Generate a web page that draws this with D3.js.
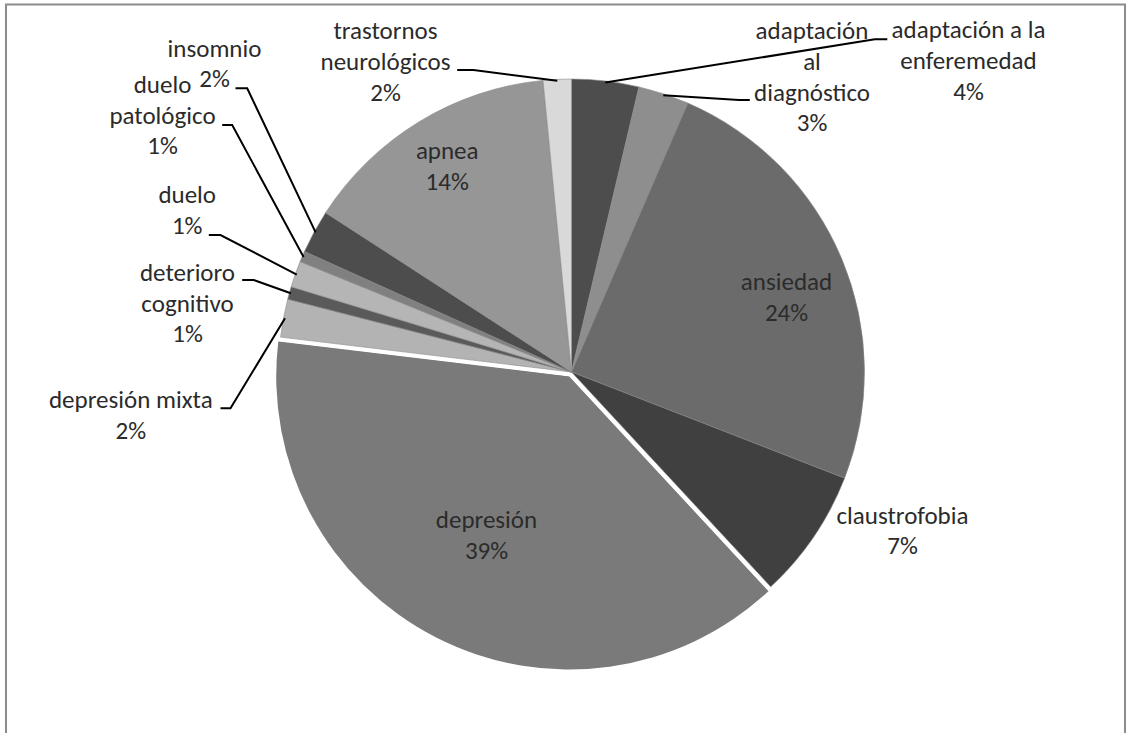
<!DOCTYPE html>
<html>
<head>
<meta charset="utf-8">
<script src="https://cdn.jsdelivr.net/npm/d3@7"></script>
<style>
  html, body { margin: 0; padding: 0; background: #ffffff; }
  svg { display: block; }
  .lbl text { font-family: Carlito, Calibri, Lato, sans-serif; font-size: 25px; fill: #2b2b2b; }
</style>
</head>
<body>
<svg id="chart" width="1132" height="733"></svg>
<script>
// Diagnoses, clockwise from 12 o'clock
const categories = [
  "adaptación a la enferemedad", "adaptación al diagnóstico", "ansiedad", "claustrofobia",
  "depresión", "depresión mixta", "deterioro cognitivo", "duelo", "duelo patológico",
  "insomnio", "apnea", "trastornos neurológicos"
];
// Share of cases (%)
const shares = [3.7, 2.8, 24.4, 7.2, 38.8, 2.1, 0.7, 1.45, 0.6, 2.4, 14.3, 1.55];
// Category text broken into display lines
const labelLines = [
  ["adaptación a la", "enferemedad"], ["adaptación", "al", "diagnóstico"], ["ansiedad"], ["claustrofobia"],
  ["depresión"], ["depresión mixta"], ["deterioro", "cognitivo"], ["duelo"], ["duelo", "patológico"],
  ["insomnio"], ["apnea"], ["trastornos", "neurológicos"]
];
const sliceGreys = ["#4d4d4d", "#8e8e8e", "#6b6b6b", "#404040", "#7a7a7a", "#b3b3b3",
                    "#5a5a5a", "#b5b5b5", "#808080", "#4d4d4d", "#969696", "#d9d9d9"];
const explodedIndex = 4;

// Label anchors relative to pie centre: x of text centre, y of first baseline
const labelAnchor = [
  [397, -333.7], [240.5, -332.7], [215, -82], [331, 151.6], [-85, 156], [-440.7, 36.3],
  [-384, -91], [-384.3, -168.7], [-409, -279], [-357, -315.3], [-124.3, -212.7], [-186, -332.7]
];
// Leader stubs relative to pie centre: [x at label, y, x at elbow]; null = label inside/near slice
const leaderStub = [
  [315.8, -332.7, 303.3], [178.3, -272, 167.6], null, null, null, [-351, 36.3, -341],
  [-329.3, -92, -317.7], [-362.7, -137, -351], [-349.3, -247, -339.3], [-336, -283.7, -324.3],
  null, [-114.3, -302, -98]
];

const W = 1132, H = 733;
const cx = 571.5, cy = 372, R = 293, lineStep = 30.6, explodeBy = 4;

const svg = d3.select("#chart");

// chart frame
svg.append("rect")
  .attr("x", 6).attr("y", 4.5).attr("width", 1119).attr("height", 800)
  .attr("fill", "#ffffff").attr("stroke", "#8c8c8c").attr("stroke-width", 2);

const data = categories.map((c, i) => ({ name: c, value: shares[i], i }));
const total = d3.sum(shares);

const pie = d3.pie().sort(null).value(d => d.value).startAngle(0).endAngle(2 * Math.PI);
const arcs = pie(data);
const arc = d3.arc().innerRadius(0).outerRadius(R);
const rimArc = d3.arc().innerRadius(R - 1.5).outerRadius(R - 1.5);

const g = svg.append("g").attr("transform", `translate(${cx},${cy})`);

g.selectAll("path.slice")
  .data(arcs)
  .join("path")
  .attr("class", "slice")
  .attr("d", arc)
  .attr("fill", d => sliceGreys[d.data.i])
  .attr("stroke", d => d.data.i === explodedIndex ? "none" : "#8a8a8a")
  .attr("stroke-width", 0.6)
  .attr("transform", d => {
    if (d.data.i !== explodedIndex) return null;
    const mid = (d.startAngle + d.endAngle) / 2;
    return `translate(${explodeBy * Math.sin(mid)},${-explodeBy * Math.cos(mid)})`;
  });

// white seam around the pulled-out slice
const ex = arcs[explodedIndex];
const exMid = (ex.startAngle + ex.endAngle) / 2;
g.append("path")
  .attr("d", arc(ex))
  .attr("fill", "none")
  .attr("stroke", "#ffffff")
  .attr("stroke-width", 2.5)
  .attr("transform", `translate(${explodeBy * Math.sin(exMid)},${-explodeBy * Math.cos(exMid)})`);
g.append("path")
  .attr("d", arc(ex))
  .attr("fill", sliceGreys[explodedIndex])
  .attr("stroke", "none")
  .attr("transform", `translate(${(explodeBy + 1) * Math.sin(exMid)},${-(explodeBy + 1) * Math.cos(exMid)})`);

// leader lines
const leaders = g.append("g");
arcs.forEach(d => {
  const s = leaderStub[d.data.i];
  if (!s) return;
  const end = rimArc.centroid(d);
  leaders.append("polyline")
    .attr("points", `${s[0]},${s[1]} ${s[2]},${s[1]} ${end[0]},${end[1]}`)
    .attr("fill", "none")
    .attr("stroke", "#000000")
    .attr("stroke-width", 2);
});

// labels: category lines plus rounded percentage
const lbl = g.append("g").attr("class", "lbl");
arcs.forEach(d => {
  const i = d.data.i;
  const [ax, ay] = labelAnchor[i];
  const lines = labelLines[i].concat([Math.round(d.data.value / total * 100) + "%"]);
  const t = lbl.append("text").attr("text-anchor", "middle");
  lines.forEach((ln, k) => {
    t.append("tspan").attr("x", ax).attr("y", ay + k * lineStep).text(ln);
  });
});
</script>
</body>
</html>
